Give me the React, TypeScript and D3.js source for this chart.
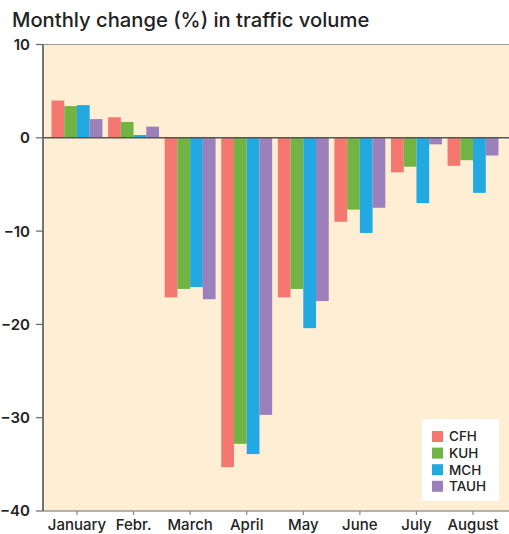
import React, { useEffect, useRef } from "react";
import * as d3 from "d3";

const months = ["January", "Febr.", "March", "April", "May", "June", "July", "August"];
const seriesNames = ["CFH", "KUH", "MCH", "TAUH"];
const cfh = [4.0, 2.2, -17.1, -35.3, -17.1, -9.0, -3.7, -3.0];
const kuh = [3.4, 1.7, -16.2, -32.8, -16.2, -7.7, -3.1, -2.4];
const mch = [3.5, 0.3, -16.0, -33.9, -20.4, -10.2, -7.0, -5.9];
const tauh = [2.0, 1.2, -17.3, -29.7, -17.5, -7.5, -0.7, -1.9];
const yTicks = [10, 0, -10, -20, -30, -40];
const colors = ["#f47770", "#72b443", "#23a9e1", "#9c80bb"];

const App = () => {
  const ref = useRef(null);

  useEffect(() => {
    const width = 509;
    const height = 534;
    const left = 43;
    const top = 44.5;
    const bottom = 511;
    const font = "Inter, 'Liberation Sans', Arial, sans-serif";

    const svg = d3.select(ref.current).attr("width", width).attr("height", height);
    svg.selectAll("*").remove();

    const values = [cfh, kuh, mch, tauh];
    const data = months.map((m, i) => ({
      month: m,
      vals: seriesNames.map((s, j) => ({ key: s, value: values[j][i] })),
    }));

    const y = d3.scaleLinear().domain([-40, 10]).range([bottom, top]);
    const x = d3.scaleBand().domain(months).range([51.5, 498.5]).paddingInner(0.1).paddingOuter(0);
    const xs = d3.scaleBand().domain(seriesNames).range([0, x.bandwidth()]);

    svg.append("text")
      .attr("x", 12)
      .attr("y", 27)
      .attr("font-family", font)
      .attr("font-size", "20.2px")
      .attr("font-weight", 500)
      .attr("fill", "#222")
      .text("Monthly change (%) in traffic volume");

    svg.append("rect")
      .attr("x", left)
      .attr("y", top)
      .attr("width", width - left)
      .attr("height", bottom - top)
      .attr("fill", "#feeed4");

    svg.append("g")
      .selectAll("g")
      .data(data)
      .enter()
      .append("g")
      .attr("transform", d => `translate(${x(d.month)},0)`)
      .selectAll("rect")
      .data(d => d.vals)
      .enter()
      .append("rect")
      .attr("x", d => xs(d.key))
      .attr("width", xs.bandwidth())
      .attr("y", d => y(Math.max(0, d.value)))
      .attr("height", d => Math.abs(y(d.value) - y(0)))
      .attr("fill", (d, i) => colors[i]);

    // frame lines
    svg.append("line")
      .attr("x1", left).attr("x2", width)
      .attr("y1", top).attr("y2", top)
      .attr("stroke", "#9a9a9a").attr("stroke-width", 1.2);
    svg.append("line")
      .attr("x1", left).attr("x2", width)
      .attr("y1", bottom).attr("y2", bottom)
      .attr("stroke", "#9a9a9a").attr("stroke-width", 1.5);
    svg.append("line")
      .attr("x1", left).attr("x2", width)
      .attr("y1", y(0)).attr("y2", y(0))
      .attr("stroke", "#555").attr("stroke-width", 1.5);
    svg.append("line")
      .attr("x1", left).attr("x2", left)
      .attr("y1", top).attr("y2", bottom)
      .attr("stroke", "#666").attr("stroke-width", 1.8);

    // y axis
    const yAxis = svg.append("g");
    yTicks.forEach(t => {
      yAxis.append("line")
        .attr("x1", left - 7).attr("x2", left)
        .attr("y1", y(t)).attr("y2", y(t))
        .attr("stroke", "#666").attr("stroke-width", 1.2);
      yAxis.append("text")
        .attr("x", 30)
        .attr("y", y(t))
        .attr("dy", "0.36em")
        .attr("text-anchor", "end")
        .attr("font-family", font)
        .attr("font-size", "15px")
        .attr("font-weight", 600)
        .attr("fill", "#222")
        .text(t < 0 ? "\u2212" + Math.abs(t) : String(t));
    });

    // x axis
    const xAxis = svg.append("g");
    months.forEach(m => {
      const cx = x(m) + x.bandwidth() / 2;
      xAxis.append("line")
        .attr("x1", cx).attr("x2", cx)
        .attr("y1", bottom).attr("y2", bottom + 4)
        .attr("stroke", "#888").attr("stroke-width", 1.2);
      xAxis.append("text")
        .attr("x", cx)
        .attr("y", 530)
        .attr("text-anchor", "middle")
        .attr("font-family", font)
        .attr("font-size", "15px")
        .attr("font-weight", 500)
        .attr("fill", "#222")
        .text(m);
    });

    // legend
    const legend = svg.append("g").attr("transform", "translate(422,419)");
    legend.append("rect")
      .attr("width", 77).attr("height", 82)
      .attr("fill", "#ffffff");
    seriesNames.forEach((s, i) => {
      legend.append("rect")
        .attr("x", 10).attr("y", 12 + i * 16.6)
        .attr("width", 11).attr("height", 11)
        .attr("fill", colors[i]);
      legend.append("text")
        .attr("x", 27).attr("y", 17.5 + i * 16.6)
        .attr("dy", "0.36em")
        .attr("font-family", font)
        .attr("font-size", "13.5px")
        .attr("font-weight", 500)
        .attr("fill", "#222")
        .text(s);
    });
  }, []);

  return <svg ref={ref} style={{ position: "absolute", top: 0, left: 0 }}></svg>;
};

export default App;
